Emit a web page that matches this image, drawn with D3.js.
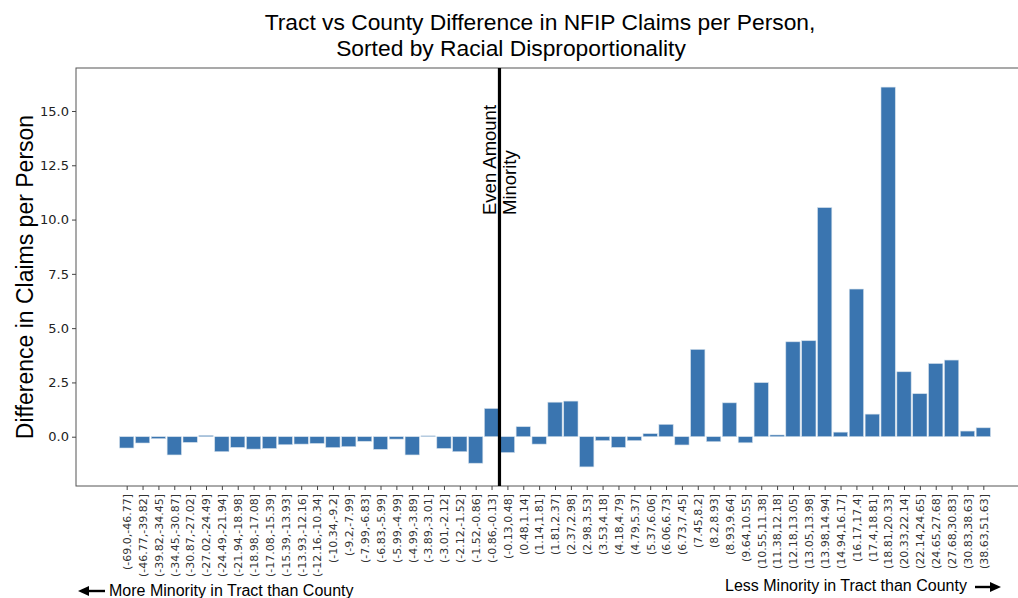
<!DOCTYPE html>
<html><head><meta charset="utf-8">
<script src="https://cdn.jsdelivr.net/npm/d3@7"></script>
<style>body{margin:0;background:#fff}svg{display:block}</style>
</head><body>
<svg id="c" width="1018" height="598"></svg>
<script>
const categories = ["(-69.0,-46.77]","(-46.77,-39.82]","(-39.82,-34.45]","(-34.45,-30.87]","(-30.87,-27.02]","(-27.02,-24.49]","(-24.49,-21.94]","(-21.94,-18.98]","(-18.98,-17.08]","(-17.08,-15.39]","(-15.39,-13.93]","(-13.93,-12.16]","(-12.16,-10.34]","(-10.34,-9.2]","(-9.2,-7.99]","(-7.99,-6.83]","(-6.83,-5.99]","(-5.99,-4.99]","(-4.99,-3.89]","(-3.89,-3.01]","(-3.01,-2.12]","(-2.12,-1.52]","(-1.52,-0.86]","(-0.86,-0.13]","(-0.13,0.48]","(0.48,1.14]","(1.14,1.81]","(1.81,2.37]","(2.37,2.98]","(2.98,3.53]","(3.53,4.18]","(4.18,4.79]","(4.79,5.37]","(5.37,6.06]","(6.06,6.73]","(6.73,7.45]","(7.45,8.2]","(8.2,8.93]","(8.93,9.64]","(9.64,10.55]","(10.55,11.38]","(11.38,12.18]","(12.18,13.05]","(13.05,13.98]","(13.98,14.94]","(14.94,16.17]","(16.17,17.4]","(17.4,18.81]","(18.81,20.33]","(20.33,22.14]","(22.14,24.65]","(24.65,27.68]","(27.68,30.83]","(30.83,38.63]","(38.63,51.63]"];
const values = [-0.52,-0.29,-0.09,-0.84,-0.26,0.06,-0.69,-0.49,-0.57,-0.54,-0.37,-0.34,-0.31,-0.5,-0.46,-0.21,-0.58,-0.11,-0.84,0.04,-0.54,-0.69,-1.22,1.3,
 -0.73,0.46,-0.34,1.59,1.64,-1.39,-0.18,-0.49,-0.18,0.14,0.57,-0.38,4.02,-0.23,1.56,-0.28,2.49,0.08,4.37,4.42,10.55,0.21,6.8,1.04,16.1,2.99,1.98,3.37,3.53,0.26,0.41];
const yTicks = [0,2.5,5,7.5,10,12.5,15];
const titleLines = ["Tract vs County Difference in NFIP Claims per Person,","Sorted by Racial Disproportionality"];
const yLabel = "Difference in Claims per Person";
const evenLines = ["Even Amount","Minority"];
const leftNote = "More Minority in Tract than County";
const rightNote = "Less Minority in Tract than County";

const svg = d3.select("#c");
const L=76, R=1034, T=68, B=486;
const x = d3.scaleLinear().domain([-3.195, categories.length-1+3.195]).range([L,R]);
const y = d3.scaleLinear().domain([-2.27,16.98]).range([B,T]);
const bw = 0.9;
const color = "#3a75b0";

svg.append("g").selectAll("rect").data(values).join("rect")
  .attr("x",(d,i)=>x(i-bw/2)).attr("width",x(bw)-x(0))
  .attr("y",d=>y(Math.max(0,d))).attr("height",d=>Math.abs(y(d)-y(0)))
  .attr("fill",color).attr("stroke","#cfdde9").attr("stroke-width",0.6);

// frame
svg.append("rect").attr("x",L).attr("y",T).attr("width",R-L).attr("height",B-T)
  .attr("fill","none").attr("stroke","#555").attr("stroke-width",1);

// y axis
const ya = svg.append("g").attr("transform",`translate(${L},0)`)
  .call(d3.axisLeft(y).tickValues(yTicks).tickFormat(d3.format(".1f")).tickSize(4).tickPadding(3));
ya.select(".domain").remove();
ya.selectAll("line").attr("stroke","#444");
ya.selectAll("text").attr("font-family","DejaVu Sans").attr("font-size",13).attr("fill","#222");

// x axis
const xa = svg.append("g").attr("transform",`translate(0,${B})`)
  .call(d3.axisBottom(x).tickValues(d3.range(categories.length)).tickFormat(i=>categories[i]).tickSize(4).tickPadding(3));
xa.select(".domain").remove();
xa.selectAll("line").attr("stroke","#444");
xa.selectAll("text").attr("font-family","DejaVu Sans").attr("font-size",11).attr("fill","#333")
  .attr("transform","rotate(-90)").attr("text-anchor","end").attr("dy","0.35em").attr("x",-8).attr("y",0);

// vertical line
svg.append("line").attr("x1",x(23.5)).attr("x2",x(23.5)).attr("y1",T).attr("y2",B)
  .attr("stroke","#000").attr("stroke-width",3.2);
const et = svg.append("text").attr("transform",`translate(${x(23.5)-3},215) rotate(-90)`)
  .attr("font-family","Liberation Sans, Arial").attr("font-size",18.5).attr("fill","#000");
et.append("tspan").attr("x",0).attr("y",0).text(evenLines[0]);
et.append("tspan").attr("x",0).attr("y",20).text(evenLines[1]);

// title
svg.append("text").attr("x",540).attr("y",30).attr("text-anchor","middle")
  .attr("font-family","Liberation Sans, Arial").attr("font-size",22.8).text(titleLines[0]);
svg.append("text").attr("x",511).attr("y",56).attr("text-anchor","middle")
  .attr("font-family","Liberation Sans, Arial").attr("font-size",22.8).text(titleLines[1]);

// y label
svg.append("text").attr("transform","translate(33,277) rotate(-90)").attr("text-anchor","middle")
  .attr("font-family","Liberation Sans, Arial").attr("font-size",23).text(yLabel);

// bottom notes with arrows
function arrow(x1,x2,yy){
  const dir = Math.sign(x2-x1);
  svg.append("line").attr("x1",x1).attr("x2",x2-dir*6).attr("y1",yy).attr("y2",yy).attr("stroke","#000").attr("stroke-width",2.4);
  svg.append("path").attr("d",`M${x2},${yy} L${x2-dir*11},${yy-5} L${x2-dir*11},${yy+5} Z`).attr("fill","#000");
}
arrow(105,78,591);
svg.append("text").attr("x",109).attr("y",596).attr("font-family","Liberation Sans, Arial").attr("font-size",16).text(leftNote);
svg.append("text").attr("x",725).attr("y",591).attr("font-family","Liberation Sans, Arial").attr("font-size",16).text(rightNote);
arrow(975,1001,587);
</script>
</body></html>
